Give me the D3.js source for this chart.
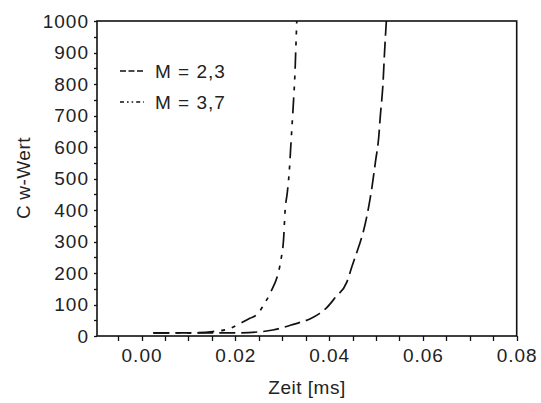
<!DOCTYPE html>
<html>
<head>
<meta charset="utf-8">
<script src="https://cdn.jsdelivr.net/npm/d3@7"></script>
<style>
  body { margin: 0; background: #fff; }
  text { font-family: Arial, "Liberation Sans", sans-serif; fill: #222; }
</style>
</head>
<body>
<div id="chart"></div>
<script>
// values (Zeit in ms, Cw-Wert)
var timeM23 = [0.0025, 0.010, 0.020, 0.025, 0.028, 0.0324, 0.036, 0.038, 0.0395, 0.0413, 0.0438, 0.0449, 0.0463, 0.0472, 0.0481, 0.0491, 0.0499, 0.0506, 0.0509, 0.0515, 0.0518, 0.0522];
var cwM23 = [10, 10, 10, 13, 19, 37, 55, 72, 90, 122, 172, 222, 283, 326, 384, 469, 555, 635, 695, 805, 895, 1000];

var timeM37 = [0.0025, 0.010, 0.0152, 0.0189, 0.021, 0.0231, 0.0249, 0.026, 0.0274, 0.0298, 0.0303, 0.0306, 0.0311, 0.0315, 0.0318, 0.0321, 0.0324, 0.0327, 0.0329, 0.0331];
var cwM37 = [10, 10, 14, 24, 40, 56, 72, 98, 135, 248, 310, 395, 458, 522, 596, 670, 744, 829, 913, 1000];

var legendLabels = ["M = 2,3", "M = 3,7"];
var xTickLabels = [0.00, 0.02, 0.04, 0.06, 0.08];
var yTickLabels = [0, 100, 200, 300, 400, 500, 600, 700, 800, 900, 1000];

var width = 541, height = 403;
var svg = d3.select("#chart")
  .append("svg")
  .attr("width", width)
  .attr("height", height);

var x = d3.scaleLinear().domain([-0.0095, 0.08]).range([97, 516.7]);
var y = d3.scaleLinear().domain([0, 1000]).range([336, 21]);

// frame
svg.append("rect")
  .attr("x", x.range()[0])
  .attr("y", y.range()[1])
  .attr("width", x.range()[1] - x.range()[0])
  .attr("height", y.range()[0] - y.range()[1])
  .style("fill", "none")
  .style("stroke", "#111")
  .style("stroke-width", 1.6);

// x ticks every 0.005
var xMinor = d3.range(-0.005, 0.0801, 0.005);
svg.selectAll("line.xt")
  .data(xMinor)
  .enter().append("line")
  .attr("class", "xt")
  .attr("x1", function(d) { return Math.round(x(d)) + 0.5; })
  .attr("x2", function(d) { return Math.round(x(d)) + 0.5; })
  .attr("y1", y(0))
  .attr("y2", y(0) + 5)
  .style("stroke", "#111")
  .style("stroke-width", 1.3);

svg.selectAll("text.xl")
  .data(xTickLabels)
  .enter().append("text")
  .attr("class", "xl")
  .attr("x", function(d) { return x(d) + 0.5; })
  .attr("y", 362)
  .style("text-anchor", "middle")
  .style("font-size", "19px")
  .style("letter-spacing", "1px")
  .text(function(d) { return d3.format(".2f")(d); });

// y ticks every 50
var yMinor = d3.range(0, 1001, 50);
svg.selectAll("line.yt")
  .data(yMinor)
  .enter().append("line")
  .attr("class", "yt")
  .attr("x1", x.range()[0] - 3)
  .attr("x2", x.range()[0])
  .attr("y1", function(d) { return Math.round(y(d)) + 0.5; })
  .attr("y2", function(d) { return Math.round(y(d)) + 0.5; })
  .style("stroke", "#111")
  .style("stroke-width", 1.3);

svg.selectAll("text.yl")
  .data(yTickLabels)
  .enter().append("text")
  .attr("class", "yl")
  .attr("x", 89)
  .attr("y", function(d) { return y(d); })
  .attr("dy", "0.36em")
  .style("text-anchor", "end")
  .style("font-size", "19px")
  .style("letter-spacing", "1px")
  .text(function(d) { return d; });

// axis titles
svg.append("text")
  .attr("x", 307)
  .attr("y", 394)
  .style("text-anchor", "middle")
  .style("font-size", "19px")
  .style("letter-spacing", "0.5px")
  .text("Zeit [ms]");

var yTitle = svg.append("text")
  .attr("transform", "translate(30,178) rotate(-90)")
  .style("text-anchor", "middle")
  .style("font-size", "19px")
  .style("letter-spacing", "0.5px");
yTitle.append("tspan").text("C");
yTitle.append("tspan").attr("dx", 5).text("w-Wert");

// curves
var line = d3.line()
  .curve(d3.curveMonotoneX)
  .x(function(d) { return x(d[0]); })
  .y(function(d) { return y(d[1]); });

svg.append("path")
  .datum(d3.zip(timeM23, cwM23))
  .attr("d", line)
  .style("fill", "none")
  .style("stroke", "#111")
  .style("stroke-width", 1.7)
  .style("stroke-dasharray", "16,6");

svg.append("path")
  .datum(d3.zip(timeM37, cwM37))
  .attr("d", line)
  .style("fill", "none")
  .style("stroke", "#111")
  .style("stroke-width", 1.7)
  .style("stroke-dasharray", "16,7,4,7,4,7");

// legend
var dashes = ["6,2.5", "4,3,1.6,3,1.6,3"];
var legend = svg.selectAll("g.leg")
  .data(legendLabels)
  .enter().append("g")
  .attr("class", "leg")
  .attr("transform", function(d, i) { return "translate(120," + (71 + i * 31) + ")"; });

legend.append("line")
  .attr("x1", 0)
  .attr("x2", 24)
  .attr("y1", 0)
  .attr("y2", 0)
  .style("stroke", "#111")
  .style("stroke-width", 1.3)
  .style("stroke-dasharray", function(d, i) { return dashes[i]; });

legend.append("text")
  .attr("x", 35)
  .attr("y", 0)
  .attr("dy", "0.36em")
  .style("font-size", "19px")
  .style("letter-spacing", "1px")
  .text(function(d) { return d; });
</script>
</body>
</html>
